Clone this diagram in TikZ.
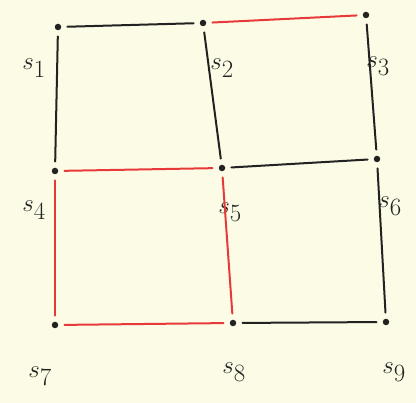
\documentclass[tikz,border=0pt]{standalone}
\definecolor{paper}{HTML}{FCFCE6}
\definecolor{pen}{HTML}{222222}
\definecolor{redpen}{HTML}{E8393A}
\tikzset{
  dot/.style={circle,fill=pen,inner sep=0pt,minimum size=6.5pt},
  lbl/.style={font=\fontsize{34}{34}\selectfont,text=pen},
  blk/.style={pen,line width=2pt,shorten >=6pt,shorten <=6pt},
  red/.style={redpen,line width=2pt,shorten >=6pt,shorten <=6pt}
}
\begin{document}
\begin{tikzpicture}[x=1pt,y=-1pt,line cap=round]
  \fill[paper] (0,0) rectangle (416,403);
  \useasboundingbox (0,0) rectangle (416,403);
  % grid points
  \node[dot] (s1) at (58,27) {};
  \node[dot] (s2) at (203,23) {};
  \node[dot] (s3) at (366,15) {};
  \node[dot] (s4) at (55,171) {};
  \node[dot] (s5) at (222,168) {};
  \node[dot] (s6) at (377,159) {};
  \node[dot] (s7) at (55,325) {};
  \node[dot] (s8) at (233,323) {};
  \node[dot] (s9) at (386,322) {};
  % labels
  \node[lbl] (l1) at (34,68) {$s_1$};
  \node[lbl] (l2) at (222,68) {$s_2$};
  \node[lbl] (l3) at (378,66) {$s_3$};
  \node[lbl] (l4) at (34,210) {$s_4$};
  \node[lbl] (l5) at (230,212) {$s_5$};
  \node[lbl] (l6) at (390,206) {$s_6$};
  \node[lbl] (l7) at (40,376) {$s_7$};
  \node[lbl] (l8) at (234,372) {$s_8$};
  \node[lbl] (l9) at (394,372) {$s_9$};
  % edges
  \draw[blk] (s1) -- (s2);
  \draw[red] (s2) -- (s3);
  \draw[blk] (s1) -- (s4);
  \draw[blk] (s2) -- (s5);
  \draw[blk] (s3) -- (s6);
  \draw[red] (s4) -- (s5);
  \draw[blk] (s5) -- (s6);
  \draw[red] (s4) -- (s7);
  \draw[red] (s5) -- (s8);
  \draw[blk] (s6) -- (s9);
  \draw[red] (s7) -- (s8);
  \draw[blk] (s8) -- (s9);
\end{tikzpicture}
\end{document}
